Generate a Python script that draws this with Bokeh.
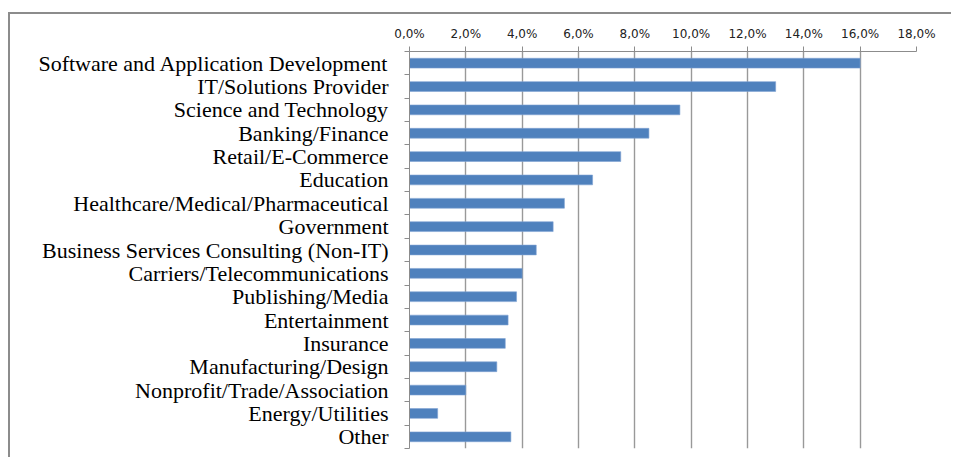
from bokeh.plotting import figure
from bokeh.models import FixedTicker, ColumnDataSource
from bokeh.embed import file_html
from bokeh.resources import INLINE

categories = [
    "Software and Application Development",
    "IT/Solutions Provider",
    "Science and Technology",
    "Banking/Finance",
    "Retail/E-Commerce",
    "Education",
    "Healthcare/Medical/Pharmaceutical",
    "Government",
    "Business Services Consulting (Non-IT)",
    "Carriers/Telecommunications",
    "Publishing/Media",
    "Entertainment",
    "Insurance",
    "Manufacturing/Design",
    "Nonprofit/Trade/Association",
    "Energy/Utilities",
    "Other",
]
values = [16.0, 13.0, 9.6, 8.5, 7.5, 6.5, 5.5, 5.1, 4.5, 4.0, 3.8, 3.5, 3.4, 3.1, 2.0, 1.0, 3.6]
x_ticks = [0, 2, 4, 6, 8, 10, 12, 14, 16, 18]
x_tick_labels = ["0,0%", "2,0%", "4,0%", "6,0%", "8,0%", "10,0%", "12,0%", "14,0%", "16,0%", "18,0%"]

n = len(categories)
ypos = [n - 1 - i for i in range(n)]
src = ColumnDataSource(dict(y=ypos, v=values, cat=categories))

p = figure(width=943, height=445, output_backend="svg", toolbar_location=None,
           x_range=(0, 18), y_range=(-0.5, n - 0.5), x_axis_location="above",
           min_border_left=399, min_border_right=37, min_border_top=37, min_border_bottom=11)
p.styles = {"margin-left": "8px", "margin-top": "12px",
            "border-left": "2px solid #8C8C8C", "border-top": "2px solid #8C8C8C"}
p.outline_line_color = None
p.background_fill_color = "white"
p.border_fill_color = "white"

p.hbar(y="y", right="v", left=0, height=0.42, source=src,
       fill_color="#4F81BD", line_color="#7FA3D3", line_width=0.6)

grid_color = "#8C8C8C"
# x axis (top)
xa = p.xaxis[0]
xa.ticker = FixedTicker(ticks=x_ticks, minor_ticks=[])
xa.major_label_overrides = {t: l for t, l in zip(x_ticks, x_tick_labels)}
xa.axis_line_color = grid_color
xa.major_tick_line_color = grid_color
xa.major_tick_out = 5
xa.major_tick_in = 0
xa.minor_tick_line_color = None
xa.major_label_standoff = 6
xa.major_label_text_font = "DejaVu Sans"
xa.major_label_text_font_size = "12px"
xa.major_label_text_color = "#222222"

# y axis (left)
ya = p.yaxis[0]
ya.ticker = FixedTicker(ticks=ypos, minor_ticks=[k - 0.5 for k in range(n + 1)])
ya.major_label_overrides = {y: c for y, c in zip(ypos, categories)}
ya.axis_line_color = grid_color
ya.major_tick_line_color = None
ya.major_tick_out = 0
ya.major_tick_in = 0
ya.minor_tick_line_color = grid_color
ya.minor_tick_out = 5
ya.minor_tick_in = 0
ya.major_label_standoff = 16
ya.major_label_text_font = "Liberation Serif"
ya.major_label_text_font_size = "22px"
ya.major_label_text_color = "black"

p.xgrid.ticker = FixedTicker(ticks=x_ticks)
p.xgrid.grid_line_color = "#999999"
p.xgrid.grid_line_width = 1.4
p.ygrid.grid_line_color = None

open("out.html", "w").write(file_html(p, INLINE))
